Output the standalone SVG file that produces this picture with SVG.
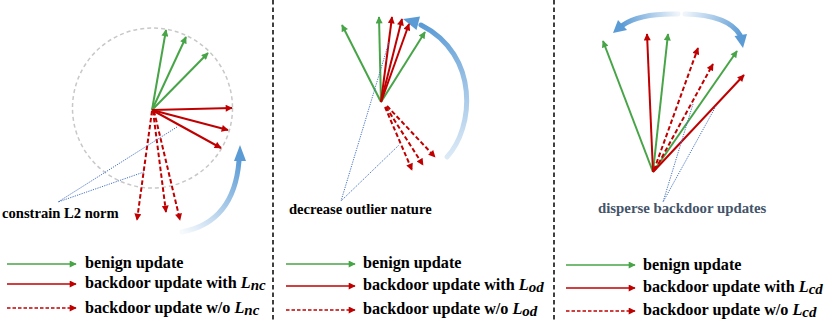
<svg xmlns="http://www.w3.org/2000/svg" width="831" height="321" viewBox="0 0 831 321">
<style>
.g{stroke:#47a447;stroke-width:2;fill:none}
.r{stroke:#c00000;stroke-width:2;fill:none}
.rd{stroke:#c00000;stroke-width:2;fill:none;stroke-dasharray:4.5,2.5}
.lg{stroke:#47a447;stroke-width:1.6;fill:none}
.lr{stroke:#c00000;stroke-width:1.6;fill:none}
.lrd{stroke:#c00000;stroke-width:1.6;fill:none;stroke-dasharray:3.5,2}
.dot{stroke:#4472c4;stroke-width:1;fill:none;stroke-dasharray:1.2,1.2}
.div{stroke:#000;stroke-width:1.5;stroke-dasharray:4.5,3}
.t{font-family:"Liberation Serif","Times New Roman",serif;font-weight:bold;fill:#000}
.lab{font-size:14.6px}
.leg{font-size:16.2px}
.m{font-style:italic}
.sub{font-size:15px;font-style:italic}
</style>
<defs>
<marker id="ag" viewBox="0 0 10 10" refX="9" refY="5" markerWidth="8" markerHeight="7" markerUnits="userSpaceOnUse" orient="auto"><path d="M0,0L10,5L0,10z" fill="#47a447"/></marker>
<marker id="ar" viewBox="0 0 10 10" refX="9" refY="5" markerWidth="8" markerHeight="7" markerUnits="userSpaceOnUse" orient="auto"><path d="M0,0L10,5L0,10z" fill="#c00000"/></marker>
<linearGradient id="b1" gradientUnits="userSpaceOnUse" x1="182" y1="232" x2="239" y2="160"><stop offset="0" stop-color="#5b9bd5" stop-opacity="0.05"/><stop offset="1" stop-color="#5b9bd5"/></linearGradient>
<linearGradient id="b2" gradientUnits="userSpaceOnUse" x1="447" y1="160" x2="420" y2="25"><stop offset="0" stop-color="#5b9bd5" stop-opacity="0.2"/><stop offset="1" stop-color="#5b9bd5"/></linearGradient>
<linearGradient id="b3" gradientUnits="userSpaceOnUse" x1="678" y1="14" x2="622" y2="25"><stop offset="0" stop-color="#5b9bd5" stop-opacity="0.1"/><stop offset="1" stop-color="#5b9bd5"/></linearGradient>
<linearGradient id="b4" gradientUnits="userSpaceOnUse" x1="685" y1="14" x2="741" y2="36"><stop offset="0" stop-color="#5b9bd5" stop-opacity="0.1"/><stop offset="1" stop-color="#5b9bd5"/></linearGradient>
</defs>
<rect width="831" height="321" fill="#fff"/>
<g id="dividers">
<line class="div" x1="273" y1="0" x2="273" y2="321"/>
<line class="div" x1="554" y1="0" x2="554" y2="321"/>
</g>
<g id="panel1">
<circle cx="152.5" cy="108" r="80" fill="none" stroke="#c8c8c8" stroke-width="1.5" stroke-dasharray="4,3"/>
<path d="M182,232 Q234,222 239,161" stroke="url(#b1)" stroke-width="5" fill="none" stroke-linecap="round"/>
<polygon points="240,145 234,161 246,161" fill="#5b9bd5"/>
<text class="t lab" x="2" y="218">constrain L2 norm</text>
</g>
<g id="panel2">
<path d="M447,157 C474,128 480,55 421,25" stroke="url(#b2)" stroke-width="5" fill="none" stroke-linecap="round"/>
<polygon points="403,19 420,16.5 416.5,30" fill="#5b9bd5"/>
<text class="t lab" x="289" y="214">decrease outlier nature</text>
</g>
<g id="panel3">
<path d="M678,14 Q640,13 623,25" stroke="url(#b3)" stroke-width="5" fill="none" stroke-linecap="round"/>
<polygon points="613,33 618,20 627,30" fill="#5b9bd5"/>
<path d="M685,14 Q728,15 740,35" stroke="url(#b4)" stroke-width="5" fill="none" stroke-linecap="round"/>
<polygon points="743,48 734.5,36 747,34" fill="#5b9bd5"/>
<text class="t lab" x="598" y="213" style="fill:#44546a;font-size:14.8px">disperse backdoor updates</text>
</g>
<g id="connectors">
<!-- panel 1 -->
<line class="g" x1="152" y1="110" x2="166" y2="30" marker-end="url(#ag)"/>
<line class="g" x1="152" y1="110" x2="186" y2="37" marker-end="url(#ag)"/>
<line class="g" x1="152" y1="110" x2="208" y2="53" marker-end="url(#ag)"/>
<line class="r" x1="152" y1="110" x2="232" y2="108" marker-end="url(#ar)"/>
<line class="r" x1="152" y1="110" x2="228" y2="130" marker-end="url(#ar)"/>
<line class="r" x1="152" y1="110" x2="221" y2="148" marker-end="url(#ar)"/>
<line class="rd" x1="152" y1="111" x2="137" y2="220" marker-end="url(#ar)"/>
<line class="rd" x1="153" y1="111" x2="166" y2="212" marker-end="url(#ar)"/>
<line class="rd" x1="154" y1="111" x2="180" y2="220" marker-end="url(#ar)"/>
<polyline class="dot" points="177,127 58,202 144,172"/>
<!-- panel 2 -->
<line class="g" x1="381" y1="102" x2="342" y2="25" marker-end="url(#ag)"/>
<line class="g" x1="381" y1="102" x2="379" y2="17" marker-end="url(#ag)"/>
<line class="g" x1="381" y1="102" x2="425" y2="32" marker-end="url(#ag)"/>
<line class="r" x1="381" y1="102" x2="392" y2="17" marker-end="url(#ar)"/>
<line class="r" x1="381" y1="102" x2="402" y2="19" marker-end="url(#ar)"/>
<line class="r" x1="381" y1="102" x2="409" y2="24" marker-end="url(#ar)"/>
<line class="rd" x1="385" y1="107" x2="412" y2="170" marker-end="url(#ar)"/>
<line class="rd" x1="386" y1="107" x2="423" y2="165" marker-end="url(#ar)"/>
<line class="rd" x1="387" y1="106" x2="435" y2="157" marker-end="url(#ar)"/>
<polyline class="dot" points="389,42 341,201 399,145"/>
<!-- panel 3 -->
<line class="g" x1="653" y1="172" x2="603" y2="41" marker-end="url(#ag)"/>
<line class="g" x1="653" y1="172" x2="668" y2="34" marker-end="url(#ag)"/>
<line class="g" x1="653" y1="172" x2="737" y2="51" marker-end="url(#ag)"/>
<line class="r" x1="653" y1="172" x2="647" y2="34" marker-end="url(#ar)"/>
<line class="r" x1="653" y1="172" x2="744" y2="75" marker-end="url(#ar)"/>
<line class="rd" x1="654" y1="170" x2="698" y2="48" marker-end="url(#ar)"/>
<line class="rd" x1="655" y1="170" x2="713" y2="64" marker-end="url(#ar)"/>
<polyline class="dot" points="693,104 663,202 716,106"/>
</g>
<g id="legend1">
<line class="lg" x1="7" y1="264" x2="76" y2="264" marker-end="url(#ag)"/>
<line class="lr" x1="7" y1="284" x2="76" y2="284" marker-end="url(#ar)"/>
<line class="lrd" x1="7" y1="308" x2="76" y2="308" marker-end="url(#ar)"/>
<text class="t leg" x="85" y="268">benign update</text>
<text class="t leg" x="85" y="288">backdoor update with <tspan class="m">L</tspan><tspan class="sub" dy="2">nc</tspan></text>
<text class="t leg" x="85" y="313">backdoor update w/o <tspan class="m">L</tspan><tspan class="sub" dy="2">nc</tspan></text>
</g>
<g id="legend2">
<line class="lg" x1="286" y1="264" x2="355" y2="264" marker-end="url(#ag)"/>
<line class="lr" x1="286" y1="286" x2="355" y2="286" marker-end="url(#ar)"/>
<line class="lrd" x1="286" y1="310" x2="355" y2="310" marker-end="url(#ar)"/>
<text class="t leg" x="363" y="268">benign update</text>
<text class="t leg" x="363" y="290">backdoor update with <tspan class="m">L</tspan><tspan class="sub" dy="2">od</tspan></text>
<text class="t leg" x="363" y="314">backdoor update w/o <tspan class="m">L</tspan><tspan class="sub" dy="2">od</tspan></text>
</g>
<g id="legend3">
<line class="lg" x1="566" y1="265" x2="635" y2="265" marker-end="url(#ag)"/>
<line class="lr" x1="566" y1="288" x2="635" y2="288" marker-end="url(#ar)"/>
<line class="lrd" x1="566" y1="311" x2="635" y2="311" marker-end="url(#ar)"/>
<text class="t leg" x="643" y="270">benign update</text>
<text class="t leg" x="643" y="292">backdoor update with <tspan class="m">L</tspan><tspan class="sub" dy="2">cd</tspan></text>
<text class="t leg" x="643" y="315">backdoor update w/o <tspan class="m">L</tspan><tspan class="sub" dy="2">cd</tspan></text>
</g>
</svg>
